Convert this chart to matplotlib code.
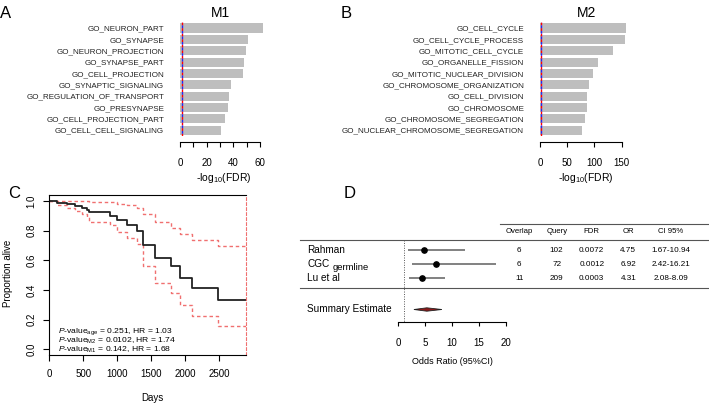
import numpy as np
import matplotlib
matplotlib.use("Agg")
import matplotlib.pyplot as plt
from matplotlib.lines import Line2D
from matplotlib.patches import Polygon

plt.rcParams['font.family'] = ['Liberation Sans', 'DejaVu Sans']
plt.rcParams['mathtext.fontset'] = 'custom'
plt.rcParams['mathtext.rm'] = 'Liberation Sans'
plt.rcParams['mathtext.it'] = 'Liberation Sans:italic'

W, H = 709, 404

# === Data ===
m1_terms = ["GO_NEURON_PART", "GO_SYNAPSE", "GO_NEURON_PROJECTION", "GO_SYNAPSE_PART",
            "GO_CELL_PROJECTION", "GO_SYNAPTIC_SIGNALING", "GO_REGULATION_OF_TRANSPORT",
            "GO_PRESYNAPSE", "GO_CELL_PROJECTION_PART", "GO_CELL_CELL_SIGNALING"]
m1_vals = [62, 51, 49.2, 48, 47.5, 38.5, 37, 36, 34, 30.5]

m2_terms = ["GO_CELL_CYCLE", "GO_CELL_CYCLE_PROCESS", "GO_MITOTIC_CELL_CYCLE",
            "GO_ORGANELLE_FISSION", "GO_MITOTIC_NUCLEAR_DIVISION", "GO_CHROMOSOME_ORGANIZATION",
            "GO_CELL_DIVISION", "GO_CHROMOSOME", "GO_CHROMOSOME_SEGREGATION",
            "GO_NUCLEAR_CHROMOSOME_SEGREGATION"]
m2_vals = [158, 155.5, 133.5, 107, 97, 89.5, 87, 86.5, 83.5, 77]

fdr_cut = -np.log10(0.05)

# survival curve (Kaplan-Meier) with 95% CI
km_days = [0, 108, 255, 377, 475, 559, 588, 892, 990, 1137, 1284, 1372, 1560, 1784, 1921, 2092, 2484, 2892]
km_surv = [1.0, 0.989, 0.978, 0.966, 0.955, 0.94, 0.925, 0.90, 0.87, 0.835, 0.80, 0.705, 0.615, 0.56, 0.48, 0.41, 0.335, 0.335]
km_upper = [1.0, 1.0, 1.0, 1.0, 1.0, 0.998, 0.995, 0.99, 0.98, 0.97, 0.955, 0.91, 0.86, 0.82, 0.78, 0.74, 0.695, 0.695]
km_lower = [1.0, 0.975, 0.955, 0.935, 0.915, 0.89, 0.86, 0.835, 0.79, 0.75, 0.71, 0.56, 0.45, 0.38, 0.30, 0.225, 0.16, 0.16]
cox_lines = [r"$\it{P}$-value$_{\mathregular{age}}$ = 0.251, HR = 1.03",
             r"$\it{P}$-value$_{\mathregular{M2}}$ = 0.0102, HR = 1.74",
             r"$\it{P}$-value$_{\mathregular{M1}}$ = 0.142, HR = 1.68"]

# forest plot
studies = ["Rahman", "CGC", "Lu et al"]
overlap = ["6", "6", "11"]
query = ["102", "72", "209"]
fdr_txt = ["0.0072", "0.0012", "0.0003"]
or_txt = ["4.75", "6.92", "4.31"]
ci_txt = ["1.67-10.94", "2.42-16.21", "2.08-8.09"]
odds = [4.75, 6.92, 4.31]
ci_lo = [1.75, 2.55, 2.05]
ci_hi = [12.3, 18.2, 8.64]
summ_or, summ_lo, summ_hi = 5.3, 2.9, 8.1
table_cols = ["Overlap", "Query", "FDR", "OR", "CI 95%"]


def fx(px):
    return px / W


def fy(py):
    return 1 - py / H


def box(x0, x1, y0, y1):
    # pixel box (top y0, bottom y1) -> figure rect
    return [fx(x0), fy(y1), fx(x1) - fx(x0), fy(y0) - fy(y1)]


fig = plt.figure(figsize=(W / 100, H / 100), dpi=100)


def bar_panel(vals, terms, x0, k, xmax, ticks, ticklabels, title, tx):
    row0, step = 28.0, 11.35
    top = row0 - step / 2
    bot = row0 + step * 9.5
    ax = fig.add_axes(box(x0, x0 + xmax * k, top, bot))
    y = np.arange(len(vals))
    ax.barh(y, vals, height=0.8, color="#bebebe", edgecolor="none")
    ax.axvline(fdr_cut, color="red", lw=1, ls=(0, (2, 2)))
    ax.axvline(fdr_cut, color="blue", lw=1, ls=(2, (2, 2)), alpha=0.8)
    ax.set_xlim(0, xmax)
    ax.set_ylim(9.5, -0.5)
    for s in ["top", "right", "left"]:
        ax.spines[s].set_visible(False)
    ax.spines["bottom"].set_position(("outward", 4.3))
    ax.spines["bottom"].set_bounds(ticks[0], ticks[-1])
    ax.spines["bottom"].set_linewidth(0.8)
    ax.set_xticks(ticks)
    ax.set_xticklabels(ticklabels, fontsize=7)
    ax.tick_params(axis="x", length=3.6, width=0.8, pad=8)
    ax.set_yticks(y)
    ax.set_yticklabels(terms, fontsize=5.8, color="#222222")
    ax.tick_params(axis="y", length=0, pad=11.5)
    ax.set_xlabel(r"-log$_{\mathregular{10}}$(FDR)", fontsize=7.5, labelpad=2)
    fig.text(fx(tx), fy(13), title, fontsize=10, ha="center", va="center")
    return ax


# === A ===
bar_panel(m1_vals, m1_terms, 180, 1.335, 66, [0, 10, 20, 30, 40, 50, 60],
          ["0", "", "20", "", "40", "", "60"], "M1", 220)
fig.text(fx(6), fy(13), "A", fontsize=12, ha="center", va="center")

# === B ===
bar_panel(m2_vals, m2_terms, 540, 0.544, 168, [0, 50, 100, 150],
          ["0", "50", "100", "150"], "M2", 587)
fig.text(fx(346), fy(13), "B", fontsize=12, ha="center", va="center")

# === C: survival ===
axc = fig.add_axes(box(49.3, 246, 195, 355.2))
axc.step(km_days, km_upper, where="post", color="#f07070", lw=1, ls=(0, (2.5, 2)))
axc.step(km_days, km_lower, where="post", color="#f07070", lw=1, ls=(0, (2.5, 2)))
axc.step(km_days, km_surv, where="post", color="#222222", lw=1.3)
axc.set_xlim(0, km_days[-1])
axc.set_ylim(-0.04, 1.04)
axc.set_xticks([0, 500, 1000, 1500, 2000, 2500])
axc.set_yticks([0, 0.2, 0.4, 0.6, 0.8, 1.0])
axc.set_yticklabels(["0.0", "0.2", "0.4", "0.6", "0.8", "1.0"], rotation=90, va="center")
axc.tick_params(labelsize=7, length=4, width=0.8)
axc.tick_params(axis="x", pad=6)
axc.tick_params(axis="y", pad=5)
for s in axc.spines.values():
    s.set_linewidth(0.8)
axc.spines["right"].set_color("#f07070")
axc.spines["right"].set_linestyle((0, (2.5, 2)))
for i, t in enumerate(cox_lines):
    axc.text(0.045, 0.147 - i * 0.058, t, transform=axc.transAxes, fontsize=6.1, va="center")
fig.text(fx(152), fy(398), "Days", fontsize=7, ha="center", va="center")
fig.text(fx(8), fy(273), "Proportion alive", fontsize=7, ha="center", va="center", rotation=90)
fig.text(fx(14), fy(193), "C", fontsize=12, ha="center", va="center")

# === D: forest plot ===
fig.text(fx(350), fy(193), "D", fontsize=12, ha="center", va="center")
k_or = 5.385
or0 = 398.3
row_step = 14.2


def row_py(r):
    return 250 + (r - 1) * row_step


axd = fig.add_axes(box(300, 709, 170, 404))
axd.set_xlim((300 - or0) / k_or, (709 - or0) / k_or)
axd.set_ylim(1 + (404 - 250) / row_step, 1 + (170 - 250) / row_step)
axd.axis("off")
rows = np.arange(1, len(studies) + 1)
axd.plot([1, 1], [1 + (240 - 250) / row_step, 1 + (322 - 250) / row_step],
         color="#555555", lw=0.7, ls=(0, (1, 1.5)))
axd.hlines(rows, ci_lo, ci_hi, color="#777777", lw=1.3)
axd.plot(odds, rows, "o", color="black", ms=3.8)
r_s = 1 + (309.5 - 250) / row_step
diamond = Polygon([[summ_lo, r_s], [summ_or, r_s - 0.12], [summ_hi, r_s], [summ_or, r_s + 0.12]],
                  closed=True, facecolor="#8b1a1a", edgecolor="#222222", lw=0.6)
axd.add_patch(diamond)

# table lines
fig.add_artist(Line2D([fx(500), fx(709)], [fy(224), fy(224)], color="#555555", lw=0.8))
fig.add_artist(Line2D([fx(300), fx(709)], [fy(240), fy(240)], color="#555555", lw=0.8))
fig.add_artist(Line2D([fx(300), fx(709)], [fy(288.3), fy(288.3)], color="#555555", lw=0.8))

col_x = [519.3, 556.7, 591.7, 628.3, 671]
for cx, name in zip(col_x, table_cols):
    fig.text(fx(cx), fy(231.7), name, fontsize=5.6, ha="center", va="center")
for i, r in enumerate(rows):
    py = row_py(r)
    fig.text(fx(307), fy(py), studies[i], fontsize=7.2, ha="left", va="center")
    for cx, col in zip(col_x, [overlap, query, fdr_txt, or_txt, ci_txt]):
        fig.text(fx(cx), fy(py), col[i], fontsize=5.9, ha="center", va="center")
fig.text(fx(333), fy(267.5), "germline", fontsize=6.8, ha="left", va="center")
fig.text(fx(307), fy(309.5), "Summary Estimate", fontsize=7.2, ha="left", va="center")

# forest x axis
axx = fig.add_axes(box(or0, or0 + 20 * k_or, 300, 322.3))
axx.set_xlim(0, 20)
axx.set_yticks([])
for s in ["top", "right", "left"]:
    axx.spines[s].set_visible(False)
axx.patch.set_visible(False)
axx.spines["bottom"].set_linewidth(0.8)
axx.set_xticks([0, 5, 10, 15, 20])
axx.tick_params(axis="x", labelsize=7, length=3.2, width=0.8, pad=8)
fig.text(fx(452), fy(361.7), "Odds Ratio (95%CI)", fontsize=6.5, ha="center", va="center")

fig.savefig("out.png", dpi=100)
